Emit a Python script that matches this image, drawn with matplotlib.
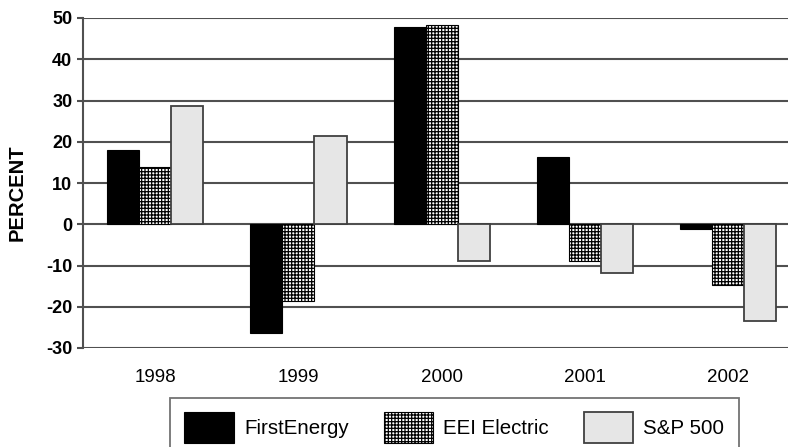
import matplotlib
matplotlib.use('Agg')
import matplotlib.pyplot as plt
import numpy as np

plt.rcParams['font.family'] = ['Liberation Sans', 'DejaVu Sans']
plt.rcParams['hatch.linewidth'] = 0.9
plt.rcParams['axes.unicode_minus'] = False

years = ['1998', '1999', '2000', '2001', '2002']
first_energy = [18.0, -26.4, 47.9, 16.2, -1.2]
eei_electric = [14.0, -18.7, 48.3, -8.8, -14.8]
sp500 = [28.6, 21.3, -9.0, -11.8, -23.4]
series_names = ['FirstEnergy', 'EEI Electric', 'S&P 500']

grid_col = '#505050'

fig = plt.figure(figsize=(7.88, 4.47), dpi=100)
# axes runs a little past the right edge, like the scan
ax = fig.add_axes([83.4 / 788, 1 - 348 / 447, (800 - 83.4) / 788, 330 / 447])

x = np.arange(len(years))
w = 0.224
b1 = ax.bar(x - w, first_energy, w, color='black', edgecolor='black', linewidth=0.8, zorder=3)
b2 = ax.bar(x, eei_electric, w, color='white', edgecolor='black', hatch='+++++', linewidth=0.8, zorder=3)
b3 = ax.bar(x + w, sp500, w, color='#e6e6e6', edgecolor='#404040', linewidth=1.3, zorder=3)

ax.set_xlim(-0.5, 4.5)
ax.set_ylim(-30, 50)
ax.set_yticks(np.arange(-30, 51, 10))
ax.yaxis.grid(True, color=grid_col, linewidth=1.5, zorder=1)
ax.set_axisbelow(True)

for s in ['top', 'right', 'bottom']:
    ax.spines[s].set_visible(False)
ax.spines['left'].set_color(grid_col)
ax.spines['left'].set_linewidth(1.5)

ax.set_xticks(x)
ax.set_xticklabels(years)
ax.tick_params(axis='x', length=0, pad=15, labelsize=13.5)
ax.tick_params(axis='y', length=4, width=1.5, color=grid_col, pad=4, labelsize=13)
for lbl in ax.get_yticklabels():
    lbl.set_fontweight('bold')

ax.set_ylabel('PERCENT', fontsize=14.5, fontweight='bold')
ax.yaxis.set_label_coords(-0.079, 0.47)

leg = fig.legend([b1, b2, b3], series_names, ncol=3, loc='upper left',
                 bbox_to_anchor=(170 / 788, 1 - 398 / 447), borderaxespad=0,
                 fontsize=14.8, handlelength=2.4, handleheight=1.9, handletextpad=0.5,
                 columnspacing=1.7, borderpad=0.7, fancybox=False)
leg.get_frame().set_edgecolor(grid_col)
leg.get_frame().set_linewidth(1.3)

fig.savefig('out.png', dpi=100)
